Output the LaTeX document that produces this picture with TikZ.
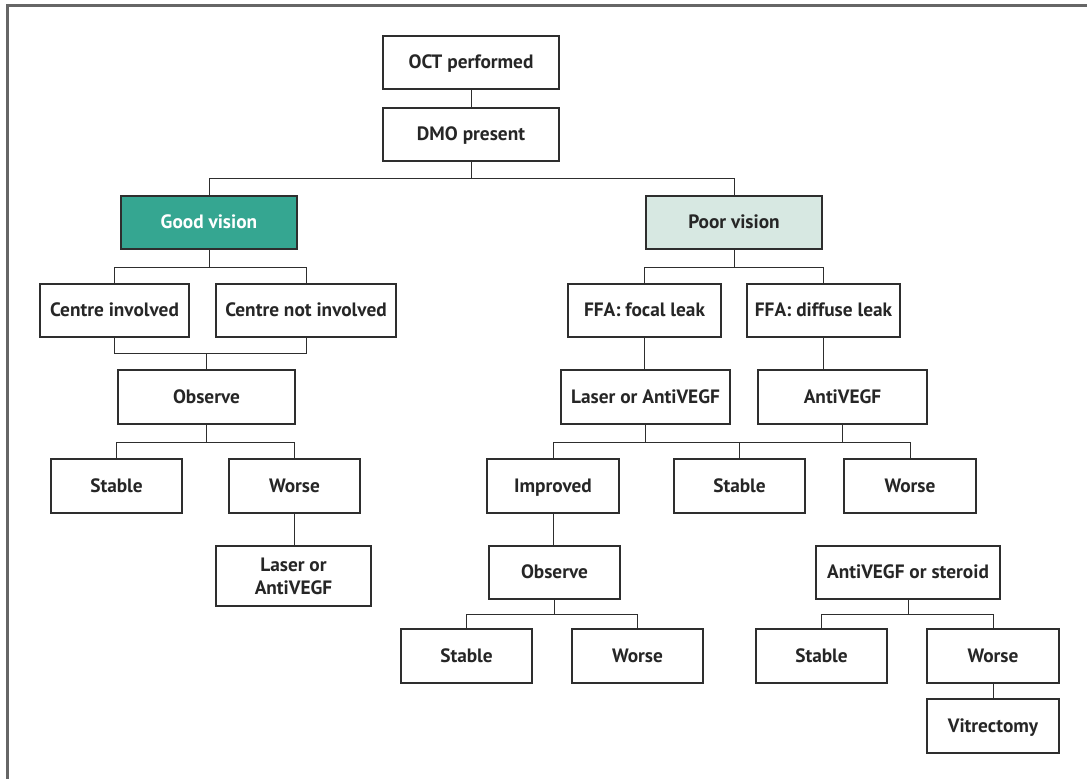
\documentclass[tikz,border=0pt]{standalone}
\usepackage{fontspec}
\setmainfont{PT Sans}
\definecolor{goodteal}{HTML}{35A691}
\definecolor{poormint}{HTML}{D7E8E2}
\definecolor{inkgrey}{HTML}{2E2E2E}
\definecolor{framegrey}{HTML}{666666}

\begin{document}
\begin{tikzpicture}[x=0.02cm, y=-0.02cm,
    box/.style={draw=inkgrey, line width=0.8pt, minimum height=1.06cm, align=center,
      text height=1.6ex, text depth=0.2ex,
      font=\bfseries\fontsize{11}{13}\selectfont, text=black!85},
    link/.style={draw=inkgrey, line width=0.55pt}]
    \useasboundingbox (0,0) rectangle (1087,778);
    % frame (only top and left edges show)
    \draw[framegrey, line width=1.5pt] (7.5,800) -- (7.5,5.5) -- (1100,5.5);

    % top
    \node[box, minimum width=3.52cm] (oct) at (471,62.5) {OCT performed};
    \node[box, minimum width=3.52cm] (dmo) at (471,134.5) {DMO present};
    \node[box, minimum width=3.52cm, fill=goodteal, text=white] (good) at (209,222.5) {Good vision};
    \node[box, minimum width=3.52cm, fill=poormint] (poor) at (734,222.5) {Poor vision};

    % good vision branch
    \node[box, minimum width=2.98cm] (ci) at (114.5,310.5) {Centre involved};
    \node[box, minimum width=3.6cm] (cni) at (306,310.5) {Centre not involved};
    \node[box, minimum width=3.54cm, minimum height=1.08cm] (obsL) at (206.5,397) {Observe};
    \node[box, minimum width=2.62cm, minimum height=1.08cm] (stableL) at (116.5,486) {Stable};
    \node[box, minimum width=2.62cm, minimum height=1.08cm] (worseL) at (294.5,486) {Worse};
    \node[box, minimum width=3.1cm, minimum height=1.2cm, text height={}, text depth={}] (laserL) at (293.5,576) {Laser or\\AntiVEGF};

    % poor vision branch
    \node[box, minimum width=3.06cm] (focal) at (644.5,310.5) {FFA: focal leak};
    \node[box, minimum width=3.06cm] (diffuse) at (823.5,310.5) {FFA: diffuse leak};
    \node[box, minimum width=3.38cm, minimum height=1.08cm] (laserR) at (645.5,397) {Laser or AntiVEGF};
    \node[box, minimum width=3.38cm, minimum height=1.08cm] (anti) at (842.5,397) {AntiVEGF};
    \node[box, minimum width=2.64cm, minimum height=1.08cm] (improved) at (553,486) {Improved};
    \node[box, minimum width=2.62cm, minimum height=1.08cm] (stableM) at (739.5,486) {Stable};
    \node[box, minimum width=2.64cm, minimum height=1.08cm] (worseM) at (910,486) {Worse};
    \node[box, minimum width=2.62cm] (obsR) at (554.5,572.5) {Observe};
    \node[box, minimum width=3.68cm] (avos) at (908,572.5) {AntiVEGF or steroid};
    \node[box, minimum width=2.62cm, minimum height=1.08cm] (stableB1) at (466.5,656) {Stable};
    \node[box, minimum width=2.62cm, minimum height=1.08cm] (worseB1) at (637.5,656) {Worse};
    \node[box, minimum width=2.62cm, minimum height=1.08cm] (stableB2) at (821.5,656) {Stable};
    \node[box, minimum width=2.64cm, minimum height=1.08cm] (worseB2) at (993,656) {Worse};
    \node[box, minimum width=2.64cm, minimum height=1.08cm] (vitr) at (993,726) {Vitrectomy};

    % bus levels
    \coordinate (busA) at (0,178);
    \coordinate (busB) at (0,267);
    \coordinate (busC) at (0,353);
    \coordinate (busD) at (0,442);
    \coordinate (busE) at (0,614);

    % connectors
    \draw[link] (oct) -- (dmo);
    \draw[link] (dmo.south) -- (dmo.south |- busA);
    \draw[link] (good.north) -- (good.north |- busA) -- (poor.north |- busA) -- (poor.north);

    \draw[link] (good.south) -- (good.south |- busB);
    \draw[link] (ci.north) -- (ci.north |- busB) -- (cni.north |- busB) -- (cni.north);
    \draw[link] (ci.south) -- (ci.south |- busC) -- (cni.south |- busC) -- (cni.south);
    \draw[link] (obsL.north) -- (obsL.north |- busC);
    \draw[link] (obsL.south) -- (obsL.south |- busD);
    \draw[link] (stableL.north) -- (stableL.north |- busD) -- (worseL.north |- busD) -- (worseL.north);
    \draw[link] (worseL.south) -- (worseL.south |- laserL.north);

    \draw[link] (poor.south) -- (poor.south |- busB);
    \draw[link] (focal.north) -- (focal.north |- busB) -- (diffuse.north |- busB) -- (diffuse.north);
    \draw[link] (focal.south) -- (focal.south |- laserR.north);
    \draw[link] (diffuse.south) -- (diffuse.south |- anti.north);
    \draw[link] (laserR.south) -- (laserR.south |- busD);
    \draw[link] (anti.south) -- (anti.south |- busD);
    \draw[link] (improved.north) -- (improved.north |- busD) -- (worseM.north |- busD) -- (worseM.north);
    \draw[link] (stableM.north) -- (stableM.north |- busD);
    \draw[link] (improved.south) -- (improved.south |- obsR.north);
    \draw[link] (obsR.south) -- (obsR.south |- busE);
    \draw[link] (stableB1.north) -- (stableB1.north |- busE) -- (worseB1.north |- busE) -- (worseB1.north);
    \draw[link] (avos.south) -- (avos.south |- busE);
    \draw[link] (stableB2.north) -- (stableB2.north |- busE) -- (worseB2.north |- busE) -- (worseB2.north);
    \draw[link] (worseB2.south) -- (worseB2.south |- vitr.north);
\end{tikzpicture}
\end{document}
